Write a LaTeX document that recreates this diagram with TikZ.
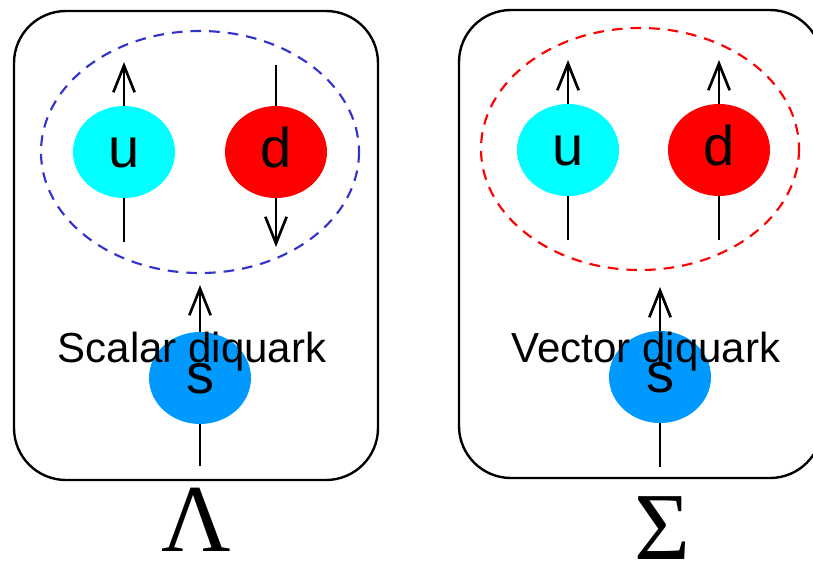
\documentclass[tikz,border=0pt]{standalone}
\usepackage{fontspec}
\setmainfont{Liberation Sans}
\newfontfamily\greekserif{Liberation Serif}
\usepackage{xcolor}
\usepackage{tikz}
\usetikzlibrary{arrows.meta,shapes.geometric,backgrounds}
\definecolor{upcyan}{HTML}{00FFFF}
\definecolor{downred}{HTML}{FF0000}
\definecolor{strangeblue}{HTML}{0099FF}
\definecolor{scalarblue}{HTML}{3333CC}
\definecolor{vectorred}{HTML}{FF0000}

\tikzset{
  quark/.style={ellipse, minimum width=76.5pt, minimum height=69pt, inner sep=0pt,
    text height=30pt, text depth=7.5pt, font=\fontsize{42}{42}\selectfont},
  spin/.style={line width=2pt, -{Straight Barb[length=20pt,width=16pt]}},
  hadron/.style={line width=1.8pt, rounded corners=39pt},
  diqring/.style={line width=1.6pt, dash pattern=on 8pt off 6pt},
  diqtext/.style={anchor=base, inner sep=0pt, font=\fontsize{31.5}{31.5}\selectfont},
  baryon/.style={anchor=base, inner sep=0pt, font=\greekserif\fontsize{72}{72}\selectfont}
}

\begin{document}
\begin{tikzpicture}[x=0.75pt, y=-0.75pt]
  \useasboundingbox (0,0) rectangle (813,562);
  \clip (0,0) rectangle (813,562);
  % Lambda: skalares Diquark
  \draw[hadron] (14,11) rectangle (378,480);
  \draw[diqring, scalarblue] (200,152) ellipse [x radius=159, y radius=121];
  \node[quark, fill=upcyan] (uL) at (124,152) {u};
  \node[quark, fill=downred] (dL) at (276,152) {d};
  \node[quark, fill=strangeblue] (sL) at (200,378) {s};
  \node[diqtext] (scalar) at (192,362) {Scalar diquark};
  \node[baryon] (lambda) at (196,551) {Λ};
  \coordinate (uLin) at (124,242);
  \coordinate (uLout) at (124,62);
  \coordinate (dLin) at (276,65);
  \coordinate (dLout) at (276,247);
  \coordinate (sLin) at (200,466);
  \coordinate (sLout) at (200,285);
  % Sigma: Vektor-Diquark
  \draw[hadron] (459,10) rectangle (822,478);
  \draw[diqring, vectorred] (640,149) ellipse [x radius=159, y radius=121];
  \node[quark, fill=upcyan] (uR) at (568,150) {u};
  \node[quark, fill=downred] (dR) at (719,150) {d};
  \node[quark, fill=strangeblue] (sR) at (660,377) {s};
  \node[diqtext] (vector) at (646,362) {Vector diquark};
  \node[baryon] (sigma) at (662,559) {Σ};
  \coordinate (uRin) at (568,240);
  \coordinate (uRout) at (568,60);
  \coordinate (dRin) at (719,240);
  \coordinate (dRout) at (719,60);
  \coordinate (sRin) at (660,467);
  \coordinate (sRout) at (660,287);
  % Spins hinter den Quarks
  \begin{scope}[on background layer]
    \draw[spin] (uLin) -- (uLout);
    \draw[spin] (dLin) -- (dLout);
    \draw[spin] (sLin) -- (sLout);
    \draw[spin] (uRin) -- (uRout);
    \draw[spin] (dRin) -- (dRout);
    \draw[spin] (sRin) -- (sRout);
  \end{scope}
\end{tikzpicture}
\end{document}
